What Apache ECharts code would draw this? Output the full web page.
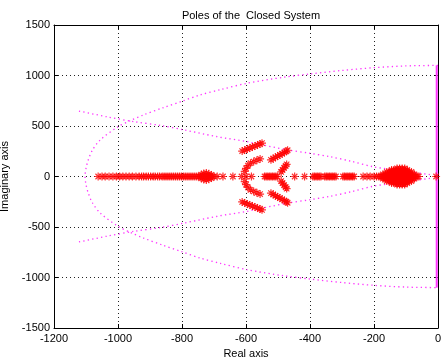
<!DOCTYPE html>
<html>
<head>
<meta charset="utf-8">
<script src="https://cdn.jsdelivr.net/npm/echarts@6/dist/echarts.min.js"></script>
<style>
  html, body { margin: 0; padding: 0; background: #fff; }
  #chart { width: 442px; height: 361px; }
</style>
</head>
<body>
<div id="chart"></div>
<script>
// poles sitting on the real axis (imag = 0)
const realAxisX = [
  -1062, -1050, -1040, -1028, -1016, -1005, -995, -985, -975, -965, -955, -944, -934,
  -926, -920, -912, -905, -898, -890, -884, -876, -870, -862, -856, -850, -844, -838,
  -832, -826, -820, -814, -808, -802, -796, -790, -784, -778, -772, -766, -760, -754,
  -748, -742, -736, -730, -724, -718, -712, -706, -700, -690, -672, -641, -614, -600, -583,
  -542, -537, -532, -527, -522, -517, -512, -507, -502, -448, -417,
  -391, -386, -381, -376, -371, -366, -354, -349, -344, -339, -334, -329, -324, -319,
  -297, -292, -287, -282, -277, -272, -267, -262, -234, -222, -212, -200, -192,
  -185, -180, -175, -170, -165, -160, -155, -150, -145, -140, -135, -130, -125, -120,
  -115, -110, -105, -100, -95, -90, -85, -80, -75, -70, -65, -60, -6
];

// off-axis poles in the dense clusters
const clusterPoles = [
  [-740, 18], [-732, 30], [-724, 34], [-716, 26], [-708, 16],
  [-740, -18], [-732, -30], [-724, -34], [-716, -26], [-708, -16],
  [-172, 22], [-165, 22], [-158, 22], [-151, 22], [-144, 22], [-137, 22], [-130, 22], [-123, 22],
  [-116, 22], [-109, 22], [-102, 22], [-95, 22], [-88, 22], [-81, 22], [-74, 22],
  [-172, -22], [-165, -22], [-158, -22], [-151, -22], [-144, -22], [-137, -22], [-130, -22], [-123, -22],
  [-116, -22], [-109, -22], [-102, -22], [-95, -22], [-88, -22], [-81, -22], [-74, -22],
  [-160, 45], [-153, 45], [-146, 45], [-139, 45], [-132, 45], [-125, 45], [-118, 45], [-111, 45],
  [-104, 45], [-97, 45], [-90, 45], [-83, 45],
  [-160, -45], [-153, -45], [-146, -45], [-139, -45], [-132, -45], [-125, -45], [-118, -45], [-111, -45],
  [-104, -45], [-97, -45], [-90, -45], [-83, -45],
  [-145, 65], [-138, 65], [-131, 65], [-124, 65], [-117, 65], [-110, 65], [-103, 65], [-96, 65],
  [-145, -65], [-138, -65], [-131, -65], [-124, -65], [-117, -65], [-110, -65], [-103, -65], [-96, -65],
  [-128, 80], [-120, 80], [-112, 80], [-104, 80],
  [-128, -80], [-120, -80], [-112, -80], [-104, -80]
];

// complex branches around -600 .. -470
const branchPoles = [
  [-612, 252], [-604, 262], [-596, 272], [-588, 282], [-580, 292], [-572, 302], [-564, 312], [-556, 322], [-550, 330],
  [-612, -252], [-604, -262], [-596, -272], [-588, -282], [-580, -292], [-572, -302], [-564, -312], [-556, -322], [-550, -330],
  [-604, 50], [-600, 80], [-594, 108], [-586, 132], [-576, 148], [-566, 162], [-556, 174],
  [-604, -50], [-600, -80], [-594, -108], [-586, -132], [-576, -148], [-566, -162], [-556, -174],
  [-522, 165], [-515, 178], [-508, 190], [-501, 202], [-494, 214], [-487, 226], [-480, 238], [-474, 250], [-470, 260],
  [-522, -165], [-515, -178], [-508, -190], [-501, -202], [-494, -214], [-487, -226], [-480, -238], [-474, -250], [-470, -260],
  [-490, 45], [-486, 65], [-481, 85], [-476, 105], [-473, 120],
  [-490, -45], [-486, -65], [-481, -85], [-476, -105], [-473, -120]
];

// magenta dotted curves
const curveOuter = [
  [0, 1100], [-100, 1095], [-202, 1077], [-300, 1050], [-400, 1015], [-484, 982], [-597, 923],
  [-680, 860], [-744, 807], [-800, 745], [-860, 680], [-921, 609], [-960, 555], [-1000, 493],
  [-1056, 361], [-1080, 260], [-1093, 163], [-1100, 80], [-1103, 0], [-1100, -80], [-1093, -163],
  [-1080, -260], [-1056, -361], [-1000, -493], [-960, -555], [-921, -609], [-860, -680], [-800, -745],
  [-744, -807], [-680, -860], [-597, -923], [-484, -982], [-400, -1015], [-300, -1050],
  [-202, -1077], [-100, -1095], [0, -1100]
];
const curveUpper = [
  [-1122, 648], [-1036, 592], [-950, 543], [-866, 505], [-792, 460], [-690, 394], [-597, 345],
  [-474, 265], [-400, 230], [-337, 196], [-270, 150], [-203, 97], [-100, 50], [-15, 15]
];
const curveLower = [
  [-1122, -648], [-1036, -592], [-950, -543], [-866, -505], [-792, -460], [-690, -394], [-597, -345],
  [-474, -265], [-400, -230], [-337, -196], [-270, -150], [-203, -97], [-100, -50], [-15, -15]
];
const imagLine = [[-4, 1100], [-4, -1100]];

const xTicks = { min: -1200, max: 0, interval: 200 };
const yTicks = { min: -1500, max: 1500, interval: 500 };

const FONT = 'Liberation Sans';
const STAR = 'path://M0 5L10 5M5 0L5 10M1.6 1.6L8.4 8.4M8.4 1.6L1.6 8.4';

const chart = echarts.init(document.getElementById('chart'));

const gridLine = { show: true, lineStyle: { color: '#222', type: [1, 3], width: 1 } };
const axisLine = { show: true, onZero: false, lineStyle: { color: '#000', width: 1 } };
const axisTick = { show: true, inside: true, length: 4, lineStyle: { color: '#000' } };
const plainNum = v => String(v);

const dotted = { color: '#ff33ff', width: 1.3, type: [1.3, 3.2] };

chart.setOption({
  animation: false,
  backgroundColor: '#fff',
  title: {
    text: 'Poles of the  Closed System',
    left: 246,
    top: 5,
    textAlign: 'center',
    textStyle: { fontFamily: FONT, fontSize: 11, fontWeight: 'normal', color: '#000' }
  },
  grid: { left: 54, right: 4, top: 25, bottom: 33, containLabel: false, outerBoundsMode: 'none' },
  xAxis: [
    {
      type: 'value', ...xTicks,
      name: 'Real axis', nameLocation: 'middle', nameGap: 18,
      nameTextStyle: { fontFamily: FONT, fontSize: 11, color: '#000' },
      axisLine, axisTick, splitLine: gridLine,
      axisLabel: { fontFamily: FONT, fontSize: 11, color: '#000', margin: 5, formatter: plainNum }
    },
    {
      type: 'value', ...xTicks, position: 'top',
      axisLine, axisTick, splitLine: { show: false }, axisLabel: { show: false }
    }
  ],
  yAxis: [
    {
      type: 'value', ...yTicks,
      name: 'Imaginary axis', nameLocation: 'middle', nameGap: 37,
      nameTextStyle: { fontFamily: FONT, fontSize: 11, color: '#000' },
      axisLine, axisTick, splitLine: gridLine,
      axisLabel: { fontFamily: FONT, fontSize: 11, color: '#000', margin: 4, formatter: plainNum }
    },
    {
      type: 'value', ...yTicks, position: 'right',
      axisLine, axisTick, splitLine: { show: false }, axisLabel: { show: false }
    }
  ],
  series: [
    {
      type: 'line', data: curveOuter, smooth: 0.3, showSymbol: false,
      lineStyle: dotted, z: 2
    },
    {
      type: 'line', data: curveUpper, smooth: 0.3, showSymbol: false,
      lineStyle: dotted, z: 2
    },
    {
      type: 'line', data: curveLower, smooth: 0.3, showSymbol: false,
      lineStyle: dotted, z: 2
    },
    {
      type: 'line', data: imagLine, showSymbol: false,
      lineStyle: { color: '#ff33ff', width: 2 }, z: 3
    },
    {
      type: 'scatter',
      data: realAxisX.map(x => [x, 0]).concat(clusterPoles, branchPoles),
      symbol: STAR, symbolSize: 8,
      itemStyle: { color: 'rgba(0,0,0,0)', borderColor: '#ff0000', borderWidth: 1.2 },
      z: 4
    }
  ]
});
</script>
</body>
</html>
